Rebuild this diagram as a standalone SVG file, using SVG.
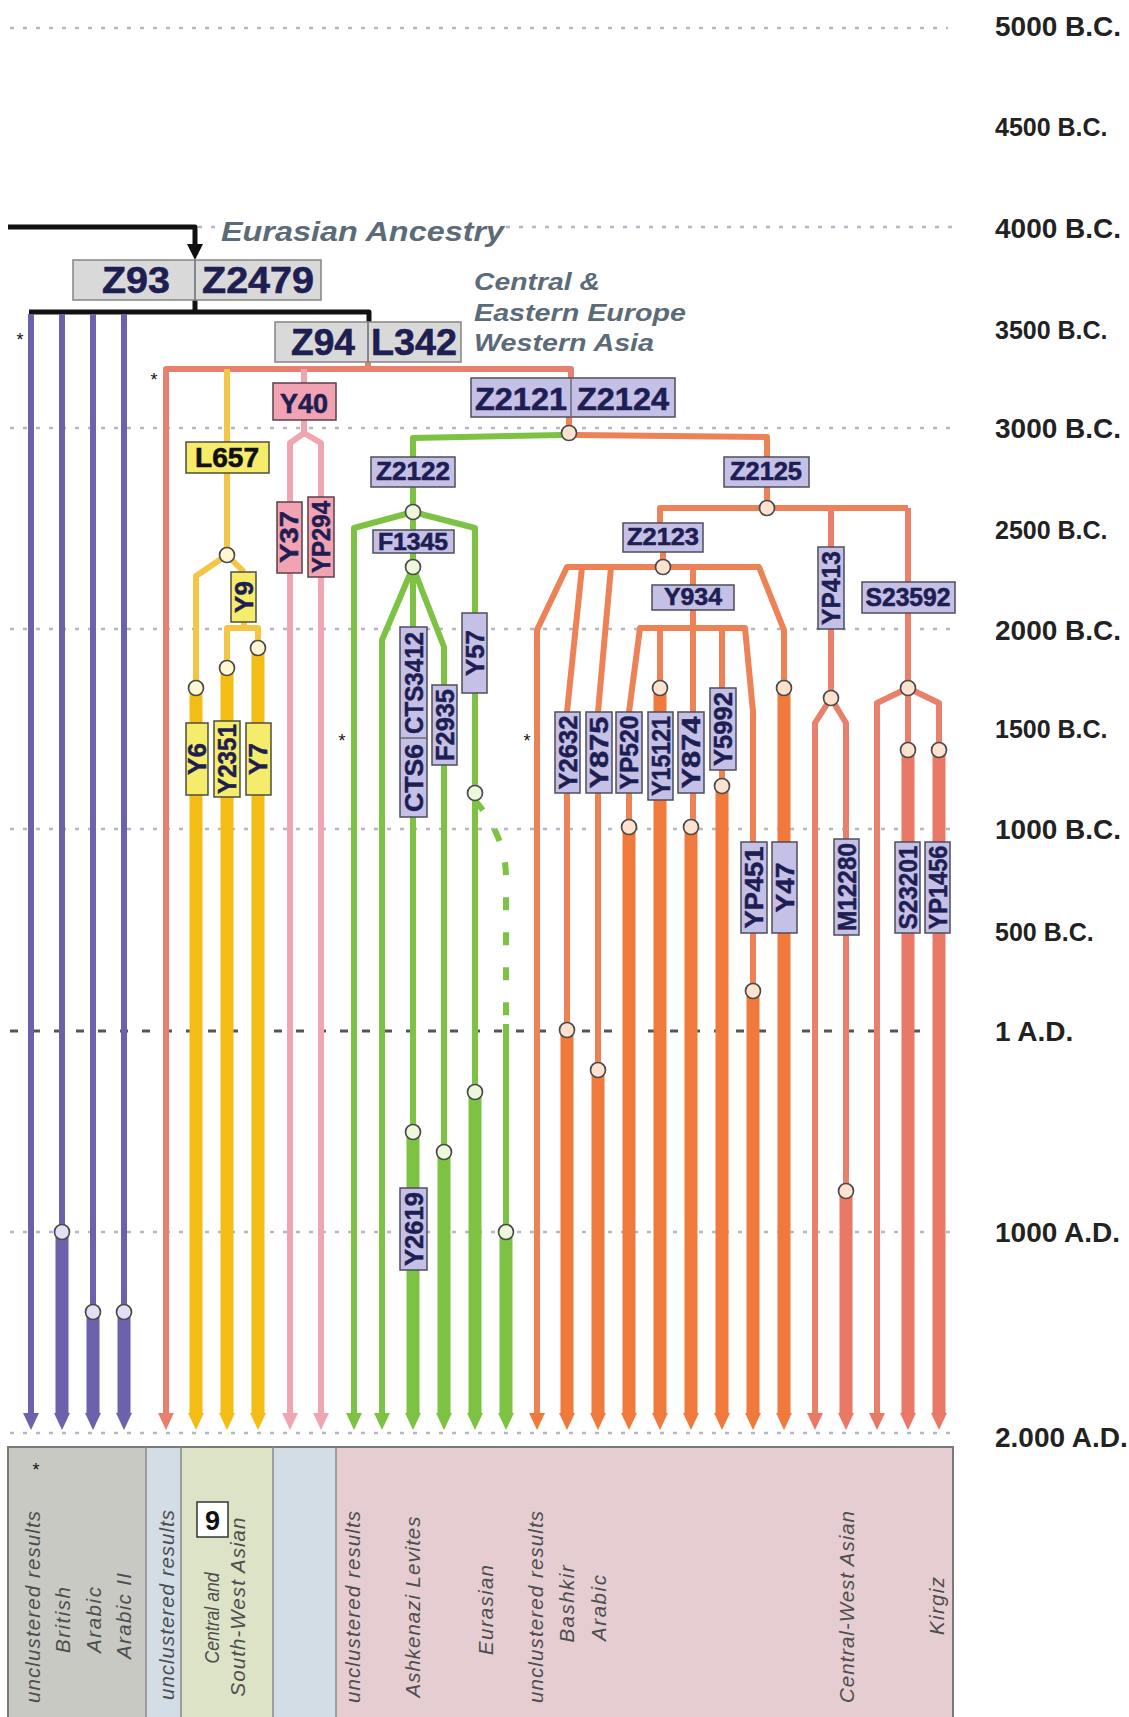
<svg xmlns="http://www.w3.org/2000/svg" width="1129" height="1717" viewBox="0 0 1129 1717">
<style>
.grid{stroke:#b3b7c6;stroke-width:2.5;stroke-dasharray:4 9;fill:none}
.ad{stroke:#555;stroke-width:3;stroke-dasharray:8 14;fill:none}
#connectors path{fill:none;stroke-linejoin:round}
.t{stroke-width:6}
.k{stroke-width:13}
.bl{stroke:#111;stroke-width:5}
.pu{stroke:#6c62ab}
.sa{stroke:#e8806f}
.ye{stroke:#f3c745}
.yk{stroke:#f3bd16}
.pk{stroke:#f0a6b0}
.gr{stroke:#7ec244}
.or{stroke:#ec8256}
.ok{stroke:#ef7a3c}
.rd{stroke:#e8806c}
.rk{stroke:#ea7866}
.dash{stroke-dasharray:13 22}
#circles circle{stroke:#4a4a4a;stroke-width:1.7}
.cp{fill:#e4e0f4}.cy{fill:#fff6d2}.cg{fill:#ecf7dc}.co{fill:#fde3cf}
.bg{fill:#d9d9d9;stroke:#8a8a8a;stroke-width:1.6}
.bv{fill:#c4c0e6;stroke:#4d4d5c;stroke-width:1.5}
.by{fill:#f6ec6c;stroke:#4d4d3c;stroke-width:1.5}
.bp{fill:#f2a3b3;stroke:#5a4048;stroke-width:1.5}
.dv{stroke:#6a6a78;stroke-width:1.5}
.h{font-family:"Liberation Sans",Arial,sans-serif;font-weight:bold;fill:#1e1e52;stroke:#1e1e52;stroke-width:0.6;text-anchor:middle}
.hk{fill:#111;stroke:#111}
.v{font-family:"Liberation Sans",Arial,sans-serif;font-weight:bold;font-size:26px;fill:#1e1e52;stroke:#1e1e52;stroke-width:0.5;text-anchor:middle}
.tm{font-family:"Liberation Sans",Arial,sans-serif;font-weight:bold;font-size:28px;fill:#222}
.tn{font-family:"Liberation Sans",Arial,sans-serif;font-weight:bold;font-size:25px;fill:#222}
.reg{font-family:"Liberation Sans",Arial,sans-serif;font-weight:bold;font-style:italic;fill:#5c6b78}
.pl{font-family:"Liberation Sans",Arial,sans-serif;font-style:italic;font-size:20.5px;fill:#4e4e4e;text-anchor:middle}
.st{font-family:"Liberation Sans",Arial,sans-serif;font-size:18px;fill:#111;text-anchor:middle}
</style>
<defs>
<marker id="aB" markerUnits="userSpaceOnUse" markerWidth="16" markerHeight="16" viewBox="0 0 16 16" refX="0" refY="8" orient="auto"><polygon points="0,0 16,8 0,16" fill="#111"/></marker>
<marker id="aP" markerUnits="userSpaceOnUse" markerWidth="17" markerHeight="16" viewBox="0 0 17 16" refX="0" refY="8" orient="auto"><polygon points="0,0 17,8 0,16" fill="#6c62ab"/></marker>
<marker id="aS" markerUnits="userSpaceOnUse" markerWidth="17" markerHeight="16" viewBox="0 0 17 16" refX="0" refY="8" orient="auto"><polygon points="0,0 17,8 0,16" fill="#e8806f"/></marker>
<marker id="aY" markerUnits="userSpaceOnUse" markerWidth="17" markerHeight="16" viewBox="0 0 17 16" refX="0" refY="8" orient="auto"><polygon points="0,0 17,8 0,16" fill="#f3bd16"/></marker>
<marker id="aK" markerUnits="userSpaceOnUse" markerWidth="17" markerHeight="16" viewBox="0 0 17 16" refX="0" refY="8" orient="auto"><polygon points="0,0 17,8 0,16" fill="#f0a6b0"/></marker>
<marker id="aG" markerUnits="userSpaceOnUse" markerWidth="17" markerHeight="16" viewBox="0 0 17 16" refX="0" refY="8" orient="auto"><polygon points="0,0 17,8 0,16" fill="#7ec244"/></marker>
<marker id="aO" markerUnits="userSpaceOnUse" markerWidth="17" markerHeight="16" viewBox="0 0 17 16" refX="0" refY="8" orient="auto"><polygon points="0,0 17,8 0,16" fill="#ef7a3c"/></marker>
<marker id="aR" markerUnits="userSpaceOnUse" markerWidth="17" markerHeight="16" viewBox="0 0 17 16" refX="0" refY="8" orient="auto"><polygon points="0,0 17,8 0,16" fill="#ea7866"/></marker>
</defs>
<rect width="1129" height="1717" fill="#fff"/>

<g id="grid">
<line class="grid" x1="10" y1="28" x2="948" y2="28"/>
<line class="grid" x1="198" y1="227" x2="220" y2="227"/>
<line class="grid" x1="506" y1="227" x2="955" y2="227"/>
<line class="grid" x1="10" y1="428" x2="955" y2="428"/>
<line class="grid" x1="10" y1="629" x2="955" y2="629"/>
<line class="grid" x1="10" y1="829" x2="955" y2="829"/>
<line class="ad" x1="10" y1="1031" x2="950" y2="1031"/>
<line class="grid" x1="10" y1="1232" x2="955" y2="1232"/>
<line class="grid" x1="10" y1="1433" x2="955" y2="1433"/>
</g>

<g id="timeline">
<text class="tm" x="995" y="36">5000 B.C.</text>
<text class="tn" x="995" y="136">4500 B.C.</text>
<text class="tm" x="995" y="238">4000 B.C.</text>
<text class="tn" x="995" y="339">3500 B.C.</text>
<text class="tm" x="995" y="438">3000 B.C.</text>
<text class="tn" x="995" y="539">2500 B.C.</text>
<text class="tm" x="995" y="640">2000 B.C.</text>
<text class="tn" x="995" y="738">1500 B.C.</text>
<text class="tm" x="995" y="839">1000 B.C.</text>
<text class="tn" x="995" y="941">500 B.C.</text>
<text class="tm" x="995" y="1041">1 A.D.</text>
<text class="tm" x="995" y="1242">1000 A.D.</text>
<text class="tm" x="995" y="1447">2.000 A.D.</text>
</g>

<g id="panel">
<rect x="8" y="1447" width="138" height="280" fill="#c9c9c3"/>
<rect x="146" y="1447" width="35" height="280" fill="#d3dde5"/>
<rect x="181" y="1447" width="92" height="280" fill="#dce3c6"/>
<rect x="273" y="1447" width="63" height="280" fill="#d3dde5"/>
<rect x="336" y="1447" width="617" height="280" fill="#e6cdd1"/>
<rect x="8" y="1447" width="945" height="280" fill="none" stroke="#7a7a7a" stroke-width="2"/>
<line x1="146" y1="1447" x2="146" y2="1717" stroke="#8a8a8a" stroke-width="1.5"/>
<line x1="181" y1="1447" x2="181" y2="1717" stroke="#8a8a8a" stroke-width="1.5"/>
<line x1="273" y1="1447" x2="273" y2="1717" stroke="#8a8a8a" stroke-width="1.5"/>
<line x1="336" y1="1447" x2="336" y2="1717" stroke="#8a8a8a" stroke-width="1.5"/>
<text class="st" x="36" y="1476">*</text>
<text class="pl" transform="translate(40,1607) rotate(-90)" textLength="192" lengthAdjust="spacing">unclustered results</text>
<text class="pl" transform="translate(70,1620) rotate(-90)" textLength="66" lengthAdjust="spacing">British</text>
<text class="pl" transform="translate(101,1620) rotate(-90)" textLength="66" lengthAdjust="spacing">Arabic</text>
<text class="pl" transform="translate(131,1616) rotate(-90)" textLength="86" lengthAdjust="spacing">Arabic II</text>
<text class="pl" transform="translate(174,1605) rotate(-90)" textLength="190" lengthAdjust="spacing">unclustered results</text>
<rect x="197" y="1502" width="31" height="35" fill="#fff" stroke="#333" stroke-width="1.5"/>
<text x="212.5" y="1530" font-family="Liberation Sans, Arial, sans-serif" font-weight="bold" font-size="27" fill="#111" text-anchor="middle">9</text>
<text class="pl" transform="translate(219,1618) rotate(-90)" font-size="19.5" textLength="91" lengthAdjust="spacingAndGlyphs">Central and</text>
<text class="pl" transform="translate(245,1607) rotate(-90)" textLength="179" lengthAdjust="spacing">South-West Asian</text>
<text class="pl" transform="translate(360,1607) rotate(-90)" textLength="192" lengthAdjust="spacing">unclustered results</text>
<text class="pl" transform="translate(420,1607) rotate(-90)" textLength="181" lengthAdjust="spacing">Ashkenazi Levites</text>
<text class="pl" transform="translate(493,1610) rotate(-90)" textLength="90" lengthAdjust="spacing">Eurasian</text>
<text class="pl" transform="translate(543,1607) rotate(-90)" textLength="192" lengthAdjust="spacing">unclustered results</text>
<text class="pl" transform="translate(574,1604) rotate(-90)" textLength="77" lengthAdjust="spacing">Bashkir</text>
<text class="pl" transform="translate(606,1608) rotate(-90)" textLength="66" lengthAdjust="spacing">Arabic</text>
<text class="pl" transform="translate(854,1607) rotate(-90)" textLength="192" lengthAdjust="spacing">Central-West Asian</text>
<text class="pl" transform="translate(944,1606) rotate(-90)" textLength="58" lengthAdjust="spacing">Kirgiz</text>
</g>

<g id="regions">
<text class="reg" x="221" y="241" font-size="27" textLength="283" lengthAdjust="spacingAndGlyphs">Eurasian Ancestry</text>
<text class="reg" x="474" y="290" font-size="24" textLength="126" lengthAdjust="spacingAndGlyphs">Central &amp;</text>
<text class="reg" x="474" y="321" font-size="24" textLength="212" lengthAdjust="spacingAndGlyphs">Eastern Europe</text>
<text class="reg" x="474" y="351" font-size="24" textLength="180" lengthAdjust="spacingAndGlyphs">Western Asia</text>
<text class="st" x="20" y="346">*</text>
<text class="st" x="154" y="386">*</text>
<text class="st" x="342" y="747">*</text>
<text class="st" x="527" y="747">*</text>
</g>

<g id="connectors">
<path class="bl" d="M8,227 H195 V244" marker-end="url(#aB)"/>
<path class="bl" d="M195,300 V312 M29,312 H369 V322"/>
<path class="pu t" d="M31,314 V1413" marker-end="url(#aP)"/>
<path class="pu t" d="M62,314 V1232"/><path class="pu k" d="M62,1232 V1413" marker-end="url(#aP)"/>
<path class="pu t" d="M93,314 V1312"/><path class="pu k" d="M93,1312 V1413" marker-end="url(#aP)"/>
<path class="pu t" d="M124,314 V1312"/><path class="pu k" d="M124,1312 V1413" marker-end="url(#aP)"/>
<path class="sa t" d="M368,362 V369"/>
<path class="sa t" d="M571,378 V369 H166 V1413" marker-end="url(#aS)"/>
<path class="ye t" d="M227,369 V442 M227,473 V555 L196,576 V688 M227,555 L244,572 M244,622 V628 M227,668 V628 H258 V648"/>
<path class="yk k" d="M196,688 V1413" marker-end="url(#aY)"/>
<path class="yk k" d="M227,668 V1413" marker-end="url(#aY)"/>
<path class="yk k" d="M258,648 V1413" marker-end="url(#aY)"/>
<path class="pk t" d="M304,369 V383 M304,420 V433"/>
<path class="pk t" d="M304,433 L290,443 V1413" marker-end="url(#aK)"/>
<path class="pk t" d="M304,433 L321,443 V1413" marker-end="url(#aK)"/>
<path class="gr t" d="M563,435 L413,438 V457 M413,487 V567"/>
<path class="gr t" d="M413,512 L354,528 V1413" marker-end="url(#aG)"/>
<path class="gr t" d="M413,512 L475,528 V1092"/>
<path class="gr k" d="M475,1092 V1413" marker-end="url(#aG)"/>
<path class="gr t" d="M413,567 L382,640 V1413" marker-end="url(#aG)"/>
<path class="gr t" d="M413,567 V1132"/>
<path class="gr k" d="M413,1132 V1413" marker-end="url(#aG)"/>
<path class="gr t" d="M413,567 L444,647 V1152"/>
<path class="gr k" d="M444,1152 V1413" marker-end="url(#aG)"/>
<path class="gr t dash" d="M475,800 C487,815 506,840 506,878 V1022"/>
<path class="gr t" d="M506,1024 V1232"/>
<path class="gr k" d="M506,1232 V1413" marker-end="url(#aG)"/>
<path class="or t" d="M569,417 V433 M575,435 L767,437 V457 M767,487 V508 M660,523 V508 H908 M663,552 V567"/>
<path class="or t" d="M784,688 V630 L759,567 H567 L537,630 V1413" marker-end="url(#aO)"/>
<path class="ok k" d="M784,688 V1413" marker-end="url(#aO)"/>
<path class="or t" d="M582,567 L567,712 V1030"/>
<path class="ok k" d="M567,1030 V1413" marker-end="url(#aO)"/>
<path class="or t" d="M611,567 L598,712 V1070"/>
<path class="ok k" d="M598,1070 V1413" marker-end="url(#aO)"/>
<path class="or t" d="M693,567 V628 M629,827 V712 L640,628 H745 L753,712 V991 M660,628 V688 M693,628 V827 M722,628 V786"/>
<path class="ok k" d="M753,991 V1413" marker-end="url(#aO)"/>
<path class="ok k" d="M629,827 V1413" marker-end="url(#aO)"/>
<path class="ok k" d="M660,688 V1413" marker-end="url(#aO)"/>
<path class="ok k" d="M691,827 V1413" marker-end="url(#aO)"/>
<path class="ok k" d="M722,786 V1413" marker-end="url(#aO)"/>
<path class="rd t" d="M831,508 V698 M908,508 V750"/>
<path class="rd t" d="M846,1191 V723 L831,698 L815,723 V1413" marker-end="url(#aR)"/>
<path class="rk k" d="M846,1191 V1413" marker-end="url(#aR)"/>
<path class="rd t" d="M939,750 V703 L908,688 L877,703 V1413" marker-end="url(#aR)"/>
<path class="rk k" d="M908,750 V1413" marker-end="url(#aR)"/>
<path class="rk k" d="M939,750 V1413" marker-end="url(#aR)"/>
</g>

<g id="circles">
<circle class="cp" cx="62" cy="1232" r="7.5"/><circle class="cp" cx="93" cy="1312" r="7.5"/><circle class="cp" cx="124" cy="1312" r="7.5"/>
<circle class="cy" cx="227" cy="555" r="7.5"/><circle class="cy" cx="196" cy="688" r="7.5"/><circle class="cy" cx="227" cy="668" r="7.5"/><circle class="cy" cx="258" cy="648" r="7.5"/>
<circle class="cg" cx="413" cy="512" r="7.5"/><circle class="cg" cx="413" cy="567" r="7.5"/><circle class="cg" cx="475" cy="793" r="7.5"/><circle class="cg" cx="475" cy="1092" r="7.5"/><circle class="cg" cx="413" cy="1132" r="7.5"/><circle class="cg" cx="444" cy="1152" r="7.5"/><circle class="cg" cx="506" cy="1232" r="7.5"/>
<circle class="co" cx="569" cy="433" r="7.5"/><circle class="co" cx="767" cy="508" r="7.5"/><circle class="co" cx="663" cy="567" r="7.5"/><circle class="co" cx="660" cy="688" r="7.5"/><circle class="co" cx="629" cy="827" r="7.5"/><circle class="co" cx="691" cy="827" r="7.5"/><circle class="co" cx="722" cy="786" r="7.5"/><circle class="co" cx="784" cy="688" r="7.5"/><circle class="co" cx="567" cy="1030" r="7.5"/><circle class="co" cx="598" cy="1070" r="7.5"/><circle class="co" cx="753" cy="991" r="7.5"/>
<circle class="co" cx="831" cy="698" r="7.5"/><circle class="co" cx="908" cy="688" r="7.5"/><circle class="co" cx="908" cy="750" r="7.5"/><circle class="co" cx="939" cy="750" r="7.5"/><circle class="co" cx="846" cy="1191" r="7.5"/>
</g>

<g id="n-Z93-Z2479"><rect class="bg" x="73" y="260" width="248" height="40"/><line class="dv" x1="195" y1="260" x2="195" y2="300"/><text class="h" x="136" y="293" font-size="36" textLength="68" lengthAdjust="spacingAndGlyphs">Z93</text><text class="h" x="258" y="293" font-size="36" textLength="112" lengthAdjust="spacingAndGlyphs">Z2479</text></g>
<g id="n-Z94-L342"><rect class="bg" x="275" y="322" width="186" height="40"/><line class="dv" x1="368" y1="322" x2="368" y2="362"/><text class="h" x="323" y="355" font-size="36" textLength="64" lengthAdjust="spacingAndGlyphs">Z94</text><text class="h" x="414" y="355" font-size="36" textLength="86" lengthAdjust="spacingAndGlyphs">L342</text></g>
<g id="n-Z2121-Z2124"><rect class="bv" x="471" y="378" width="204" height="39"/><line class="dv" x1="571" y1="378" x2="571" y2="417"/><text class="h" x="521" y="410" font-size="32" textLength="92" lengthAdjust="spacingAndGlyphs">Z2121</text><text class="h" x="623" y="410" font-size="32" textLength="92" lengthAdjust="spacingAndGlyphs">Z2124</text></g>
<g id="n-Y40"><rect class="bp" x="273" y="383" width="63" height="37"/><text class="h" x="304" y="413" font-size="28" textLength="48" lengthAdjust="spacingAndGlyphs">Y40</text></g>
<g id="n-L657"><rect class="by" x="186" y="442" width="83" height="31"/><text class="h hk" x="227" y="467" font-size="27" textLength="64" lengthAdjust="spacingAndGlyphs">L657</text></g>
<g id="n-Z2122"><rect class="bv" x="371" y="457" width="84" height="30"/><text class="h" x="413" y="480" font-size="25" textLength="74" lengthAdjust="spacingAndGlyphs">Z2122</text></g>
<g id="n-F1345"><rect class="bv" x="373" y="530" width="81" height="23"/><text class="h" x="413" y="550" font-size="24" textLength="70" lengthAdjust="spacingAndGlyphs">F1345</text></g>
<g id="n-Z2125"><rect class="bv" x="724" y="457" width="85" height="30"/><text class="h" x="766" y="480" font-size="25" textLength="72" lengthAdjust="spacingAndGlyphs">Z2125</text></g>
<g id="n-Z2123"><rect class="bv" x="623" y="523" width="80" height="29"/><text class="h" x="663" y="545" font-size="24" textLength="72" lengthAdjust="spacingAndGlyphs">Z2123</text></g>
<g id="n-Y934"><rect class="bv" x="652" y="585" width="82" height="25"/><text class="h" x="693" y="605" font-size="24" textLength="58" lengthAdjust="spacingAndGlyphs">Y934</text></g>
<g id="n-S23592"><rect class="bv" x="862" y="582" width="93" height="31"/><text class="h" x="908" y="606" font-size="25" textLength="85" lengthAdjust="spacingAndGlyphs">S23592</text></g>

<g id="n-Y9"><rect class="by" x="231" y="572" width="25" height="50"/><text class="v hk" transform="translate(253,597) rotate(-90)">Y9</text></g>
<g id="n-Y6"><rect class="by" x="186" y="723" width="22" height="72"/><text class="v hk" transform="translate(206,759) rotate(-90)">Y6</text></g>
<g id="n-Y2351"><rect class="by" x="214" y="721" width="26" height="76"/><text class="v hk" transform="translate(236,759) rotate(-90)" textLength="70" lengthAdjust="spacingAndGlyphs">Y2351</text></g>
<g id="n-Y7"><rect class="by" x="246" y="723" width="25" height="72"/><text class="v hk" transform="translate(267,759) rotate(-90)">Y7</text></g>
<g id="n-Y37"><rect class="bp" x="277" y="502" width="25" height="71"/><text class="v" transform="translate(298,537) rotate(-90)" textLength="52" lengthAdjust="spacingAndGlyphs">Y37</text></g>
<g id="n-YP294"><rect class="bp" x="308" y="497" width="26" height="80"/><text class="v" transform="translate(330,537) rotate(-90)" textLength="72" lengthAdjust="spacingAndGlyphs">YP294</text></g>
<g id="n-CTS6-CTS3412"><rect class="bv" x="400" y="627" width="27" height="190"/><line class="dv" x1="400" y1="738" x2="427" y2="738"/><text class="v" transform="translate(422.5,683) rotate(-90)" textLength="102" lengthAdjust="spacingAndGlyphs">CTS3412</text><text class="v" transform="translate(422.5,778) rotate(-90)" textLength="68" lengthAdjust="spacingAndGlyphs">CTS6</text></g>
<g id="n-F2935"><rect class="bv" x="432" y="685" width="25" height="80"/><text class="v" transform="translate(453.5,725) rotate(-90)" textLength="72" lengthAdjust="spacingAndGlyphs">F2935</text></g>
<g id="n-Y57"><rect class="bv" x="462" y="613" width="25" height="80"/><text class="v" transform="translate(483.5,653) rotate(-90)" textLength="46" lengthAdjust="spacingAndGlyphs">Y57</text></g>
<g id="n-Y2619"><rect class="bv" x="400" y="1188" width="27" height="82"/><text class="v" transform="translate(422.5,1229) rotate(-90)" textLength="74" lengthAdjust="spacingAndGlyphs">Y2619</text></g>
<g id="n-YP413"><rect class="bv" x="818" y="547" width="26" height="82"/><text class="v" transform="translate(840,588) rotate(-90)" textLength="74" lengthAdjust="spacingAndGlyphs">YP413</text></g>
<g id="n-Y2632"><rect class="bv" x="555" y="712" width="25" height="81"/><text class="v" transform="translate(576.5,752.5) rotate(-90)" textLength="74" lengthAdjust="spacingAndGlyphs">Y2632</text></g>
<g id="n-Y875"><rect class="bv" x="586" y="712" width="26" height="81"/><text class="v" transform="translate(608,752.5) rotate(-90)" textLength="72" lengthAdjust="spacingAndGlyphs">Y875</text></g>
<g id="n-YP520"><rect class="bv" x="616" y="712" width="26" height="81"/><text class="v" transform="translate(638,752.5) rotate(-90)" textLength="74" lengthAdjust="spacingAndGlyphs">YP520</text></g>
<g id="n-Y15121"><rect class="bv" x="648" y="712" width="25" height="88"/><text class="v" transform="translate(669.5,756) rotate(-90)" textLength="80" lengthAdjust="spacingAndGlyphs">Y15121</text></g>
<g id="n-Y874"><rect class="bv" x="678" y="712" width="26" height="81"/><text class="v" transform="translate(700,752.5) rotate(-90)" textLength="72" lengthAdjust="spacingAndGlyphs">Y874</text></g>
<g id="n-Y5992"><rect class="bv" x="710" y="688" width="26" height="82"/><text class="v" transform="translate(732,729) rotate(-90)" textLength="74" lengthAdjust="spacingAndGlyphs">Y5992</text></g>
<g id="n-YP451"><rect class="bv" x="741" y="842" width="26" height="91"/><text class="v" transform="translate(763,887.5) rotate(-90)" textLength="82" lengthAdjust="spacingAndGlyphs">YP451</text></g>
<g id="n-Y47"><rect class="bv" x="772" y="842" width="25" height="91"/><text class="v" transform="translate(793.5,887.5) rotate(-90)" textLength="50" lengthAdjust="spacingAndGlyphs">Y47</text></g>
<g id="n-M12280"><rect class="bv" x="834" y="839" width="25" height="96"/><text class="v" transform="translate(855.5,887) rotate(-90)" textLength="88" lengthAdjust="spacingAndGlyphs">M12280</text></g>
<g id="n-S23201"><rect class="bv" x="895" y="842" width="25" height="91"/><text class="v" transform="translate(916.5,887.5) rotate(-90)" textLength="84" lengthAdjust="spacingAndGlyphs">S23201</text></g>
<g id="n-YP1456"><rect class="bv" x="925" y="842" width="25" height="91"/><text class="v" transform="translate(946.5,887.5) rotate(-90)" textLength="84" lengthAdjust="spacingAndGlyphs">YP1456</text></g>
</svg>
